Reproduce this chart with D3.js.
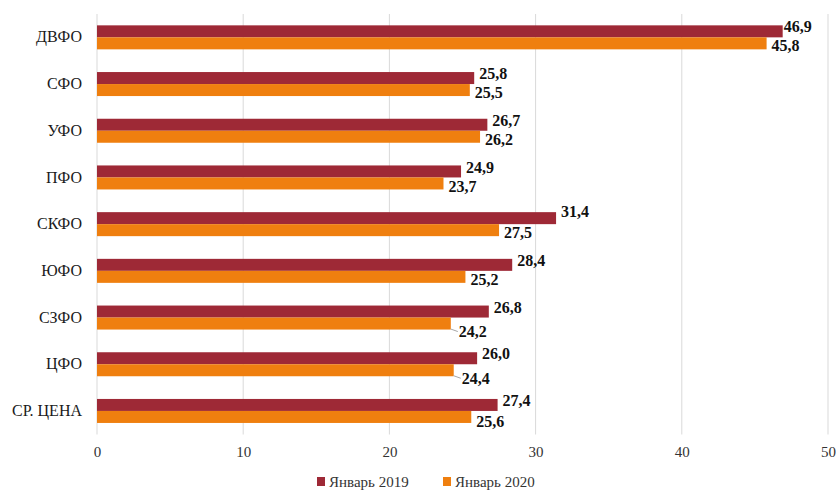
<!DOCTYPE html>
<html>
<head>
<meta charset="utf-8">
<script src="https://cdn.jsdelivr.net/npm/d3@7"></script>
<style>
  html, body { margin: 0; padding: 0; background: #fff; }
  svg { display: block; }
  svg text { font-family: 'Liberation Serif', 'Times New Roman', 'DejaVu Serif', serif !important; }
</style>
</head>
<body>
<svg id="chart" width="836" height="491"></svg>
<script>
// Federal districts, top to bottom
const categories = ["ДВФО", "СФО", "УФО", "ПФО", "СКФО", "ЮФО", "СЗФО", "ЦФО", "СР. ЦЕНА"];
const seriesNames = ["Январь 2019", "Январь 2020"];
const values2019 = [46.9, 25.8, 26.7, 24.9, 31.4, 28.4, 26.8, 26.0, 27.4];
const values2020 = [45.8, 25.5, 26.2, 23.7, 27.5, 25.2, 24.2, 24.4, 25.6];
const xTicks = [0, 10, 20, 30, 40, 50];

const colors = ["#9e2936", "#ef7f0f"];
const serif = "'Liberation Serif', 'Times New Roman', serif";

const svg = d3.select("#chart");
const margin = { left: 97, top: 14 };

const x = d3.scaleLinear().domain([0, 50]).range([margin.left, 828]);
const y = d3.scaleBand().domain(categories).range([margin.top, 434.3]).paddingInner(0.486).paddingOuter(0.243);
const sub = d3.scaleBand().domain([0, 1]).range([0, y.bandwidth()]);

// vertical gridlines
svg.append("g")
  .selectAll("line")
  .data(xTicks)
  .join("line")
  .attr("x1", d => x(d)).attr("x2", d => x(d))
  .attr("y1", margin.top).attr("y2", 434.5)
  .attr("stroke", "#d9d9d9").attr("stroke-width", 1);

// x axis tick labels
const xAxis = d3.axisBottom(x).tickValues(xTicks).tickSize(0).tickPadding(0).tickFormat(d3.format("d"));
const gx = svg.append("g").attr("transform", "translate(0,446)").call(xAxis);
gx.attr("font-family", null);
gx.select(".domain").remove();
gx.selectAll("text").attr("font-size", 15).attr("fill", "#333")
  .style("font-family", serif).attr("dy", "0.71em");

// category labels
const yAxis = d3.axisLeft(y).tickSize(0).tickPadding(15);
const gy = svg.append("g").attr("transform", `translate(${margin.left},0)`).call(yAxis);
gy.attr("font-family", null);
gy.select(".domain").remove();
gy.selectAll("text").attr("font-size", 16).attr("fill", "#1a1a1a")
  .style("font-family", serif);

const rows = categories.map((c, i) => ({ c, v: [values2019[i], values2020[i]] }));

// bars
const groups = svg.append("g").selectAll("g")
  .data(rows).join("g")
  .attr("transform", d => `translate(0,${y(d.c)})`);

groups.selectAll("rect")
  .data(d => d.v.map((v, k) => ({ v, k })))
  .join("rect")
  .attr("x", x(0))
  .attr("y", d => sub(d.k))
  .attr("width", d => x(d.v) - x(0))
  .attr("height", sub.bandwidth())
  .attr("fill", d => colors[d.k]);

// value label offsets: [dx, dy] per series, with a few nudged labels
const fmt = v => d3.format(".1f")(v).replace(".", ",");
const nudge = {
  "ДВФО|0": [1, -4.5], "СКФО|0": [5, -7], "СР. ЦЕНА|0": [5, -5], "СР. ЦЕНА|1": [5, 4],
  "СЗФО|1": [8, 8], "ЦФО|1": [8, 8]
};
const leaders = new Set(["СЗФО|1", "ЦФО|1"]);

rows.forEach(r => {
  r.v.forEach((v, k) => {
    const key = r.c + "|" + k;
    const [dx, dy] = nudge[key] || [5, k === 0 ? -4.5 : 2.5];
    const cy = y(r.c) + sub(k) + sub.bandwidth() / 2;
    if (leaders.has(key)) {
      svg.append("line")
        .attr("x1", x(v)).attr("x2", x(v) + dx - 1)
        .attr("y1", cy + sub.bandwidth() / 2 - 0.5).attr("y2", cy + dy)
        .attr("stroke", "#a6a6a6").attr("stroke-width", 1);
    }
    svg.append("text")
      .attr("x", x(v) + dx)
      .attr("y", cy + dy)
      .attr("dy", "0.35em")
      .attr("font-size", 16)
      .attr("font-weight", "bold")
      .attr("fill", "#111")
      .style("font-family", serif)
      .text(fmt(v));
  });
});

// legend
const legend = svg.append("g").attr("transform", "translate(0,482)");
const legendX = [317, 443];
seriesNames.forEach((name, k) => {
  legend.append("rect").attr("x", legendX[k]).attr("y", -5).attr("width", 8).attr("height", 9).attr("fill", colors[k]);
  legend.append("text").attr("x", legendX[k] + 12).attr("y", 0).attr("dy", "0.35em")
    .attr("font-size", 15).attr("fill", "#333").style("font-family", serif).text(name);
});
</script>
</body>
</html>
